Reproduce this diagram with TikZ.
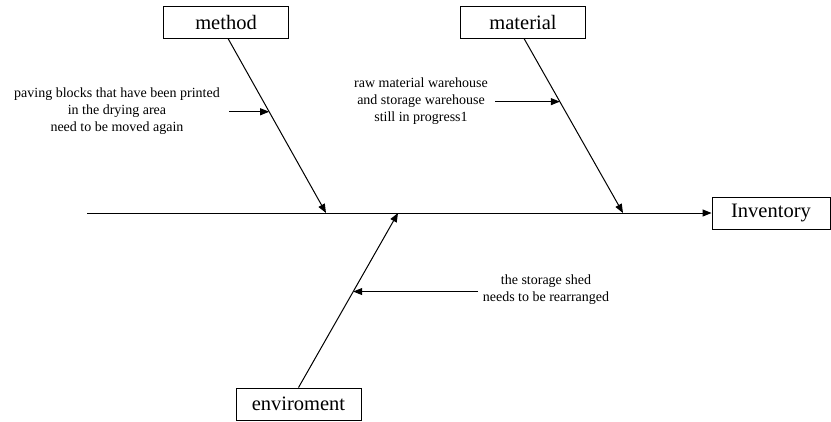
\documentclass[tikz,border=0pt]{standalone}
\usepackage{fontspec}
\setmainfont{Liberation Serif}
\usetikzlibrary{calc,arrows.meta}

\begin{document}
\begin{tikzpicture}[x=1pt,y=-1pt,
  catbox/.style={draw,line width=0.9pt,minimum width=125pt,minimum height=32pt,inner sep=0pt,font=\fontsize{20.5}{22}\selectfont},
  causetxt/.style={align=center,inner sep=0pt,font=\fontsize{14}{17}\selectfont},
  bone/.style={line width=1pt,-{Triangle[length=9pt,width=7pt]}}]
\useasboundingbox (0,0) rectangle (831,421);

\node[catbox] (method) at (226,22) {method};
\node[catbox] (material) at (523,22) {material};
\node[catbox] (enviroment) at (298.5,404) {enviroment};
\node[catbox,minimum width=118pt] (inventory) at (771,213) {Inventory};

\coordinate (tail) at (87,213);
\coordinate (mjoin) at (326,213);
\coordinate (tjoin) at (623,213);
\coordinate (ejoin) at (398,213);

\draw[bone] (tail) -- (inventory.west);
\draw[bone] (method.south) ++(2,0) coordinate (mtop) -- (mjoin);
\draw[bone] (material.south) ++(1,0) coordinate (ttop) -- (tjoin);
\draw[bone] (enviroment.north) -- (ejoin);

\node[causetxt] (mtext) at (117,111) {paving blocks that have been printed\\in the drying area\\need to be moved again};
\node[causetxt] (ttext) at (421,101) {raw material warehouse\\and storage warehouse\\still in progress1};
\node[causetxt] (etext) at (546,290) {the storage shed\\needs to be rearranged};

\coordinate (mhit) at ($(mtop)!0.42!(mjoin)$);
\coordinate (thit) at ($(ttop)!0.362!(tjoin)$);
\coordinate (ehit) at ($(enviroment.north)!0.55!(ejoin)$);

\draw[bone] (229,0 |- mhit) -- (mhit);
\draw[bone] (495,0 |- thit) -- (thit);
\draw[bone] (478,0 |- ehit) -- (ehit);

\end{tikzpicture}
\end{document}
